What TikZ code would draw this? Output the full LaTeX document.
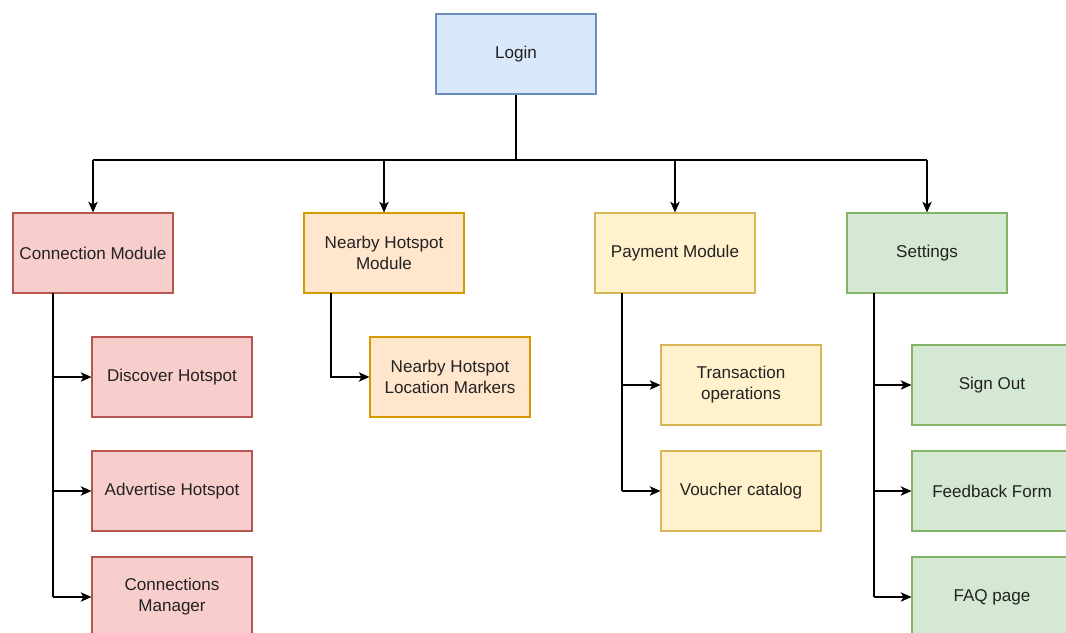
\documentclass[tikz,border=0pt]{standalone}
\usepackage{fontspec}
\setmainfont{Liberation Sans}
\usetikzlibrary{arrows.meta}
\definecolor{blueF}{HTML}{DAE8FC}\definecolor{blueD}{HTML}{6C8EBF}
\definecolor{redF}{HTML}{F8CECC}\definecolor{redD}{HTML}{B85450}
\definecolor{orangeF}{HTML}{FFE6CC}\definecolor{orangeD}{HTML}{D79B00}
\definecolor{yellowF}{HTML}{FFF2CC}\definecolor{yellowD}{HTML}{D6B656}
\definecolor{greenF}{HTML}{D5E8D4}\definecolor{greenD}{HTML}{82B366}
\definecolor{txt}{HTML}{222222}
\begin{document}
\begin{tikzpicture}[x=0.75pt,y=-0.75pt,
  box/.style={draw,line width=0.8pt,minimum width=120pt,minimum height=60pt,
    inner sep=0pt,align=center,text=txt,font=\fontsize{12.8}{15.8}\selectfont},
  bluebox/.style={box,fill=blueF,draw=blueD},
  redbox/.style={box,fill=redF,draw=redD},
  orangebox/.style={box,fill=orangeF,draw=orangeD},
  yellowbox/.style={box,fill=yellowF,draw=yellowD},
  greenbox/.style={box,fill=greenF,draw=greenD},
  link/.style={line width=1pt,black,-{Stealth[length=8pt,width=7pt,inset=2pt]}},
  plain/.style={line width=1pt,black}]
\useasboundingbox (0,0) rectangle (1066,632);
\clip (0,0) rectangle (1066,632);
\fill[white] (0,0) rectangle (1066,632);

% top level
\node[bluebox] (login) at (516,54) {Login};

% modules
\node[redbox] (conn) at (93,253) {Connection Module};
\node[orangebox] (near) at (384,253) {Nearby Hotspot\\Module};
\node[yellowbox] (pay) at (675,253) {Payment Module};
\node[greenbox] (set) at (927,253) {Settings};

% connection module children
\node[redbox] (disc) at (172,377) {Discover Hotspot};
\node[redbox] (adv) at (172,491) {Advertise Hotspot};
\node[redbox] (mgr) at (172,597) {Connections\\Manager};

% nearby hotspot children
\node[orangebox] (mark) at (450,377) {Nearby Hotspot\\Location Markers};

% payment children
\node[yellowbox] (trans) at (741,385) {Transaction\\operations};
\node[yellowbox] (vouch) at (741,491) {Voucher catalog};

% settings children
\node[greenbox] (out) at (992,385) {Sign Out};
\node[greenbox] (feed) at (992,491) {Feedback Form};
\node[greenbox] (faq) at (992,597) {FAQ page};

% login to modules
\coordinate (bus) at (516,160);
\draw[plain] (login.south) -- (bus);
\draw[plain] (conn.north |- bus) -- (set.north |- bus);
\foreach \m in {conn,near,pay,set}
  \draw[link] (\m.north |- bus) -- (\m.north);

% modules to children
\coordinate (cx) at (53,293);
\coordinate (nx) at (331,293);
\coordinate (px) at (622,293);
\coordinate (sx) at (874,293);
\draw[plain] (cx) -- (cx |- mgr.west);
\foreach \c in {disc,adv,mgr}
  \draw[link] (cx |- \c.west) -- (\c.west);
\draw[link] (nx) -- (nx |- mark.west) -- (mark.west);
\draw[plain] (px) -- (px |- vouch.west);
\foreach \c in {trans,vouch}
  \draw[link] (px |- \c.west) -- (\c.west);
\draw[plain] (sx) -- (sx |- faq.west);
\foreach \c in {out,feed,faq}
  \draw[link] (sx |- \c.west) -- (\c.west);
\end{tikzpicture}
\end{document}
